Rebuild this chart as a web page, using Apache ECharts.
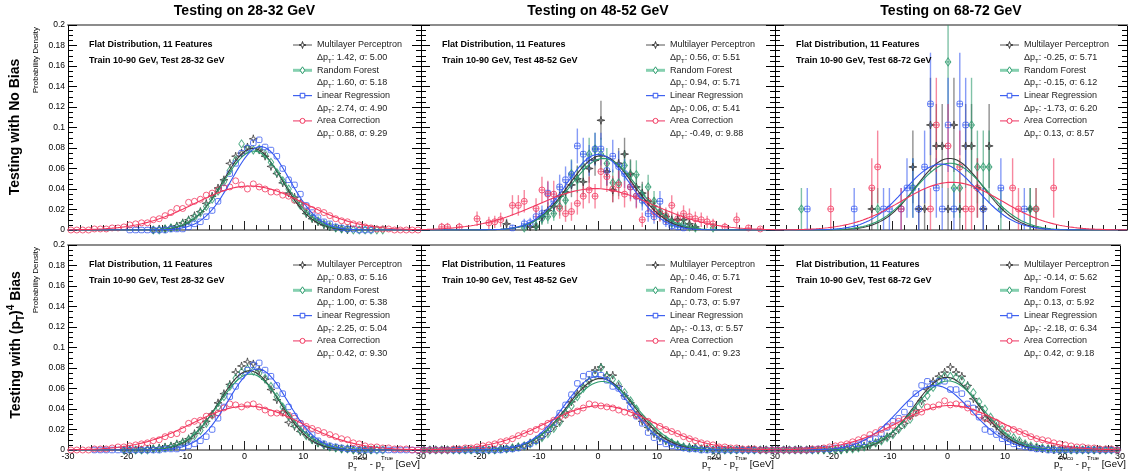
<!DOCTYPE html>
<html>
<head>
<meta charset="utf-8">
<script src="https://cdn.jsdelivr.net/npm/echarts@6/dist/echarts.min.js"></script>
<style>
html, body { margin: 0; padding: 0; background: #fff; }
#main { width: 1128px; height: 472px; }
</style>
</head>
<body>
<div id="main"></div>
<script>
const _ = null;

// bin centres of the 1 GeV histograms, p_T^Reco - p_T^True
const binCenters = [
    -29.5, -28.5, -27.5, -26.5, -25.5, -24.5, -23.5, -22.5, -21.5, -20.5,
    -19.5, -18.5, -17.5, -16.5, -15.5, -14.5, -13.5, -12.5, -11.5, -10.5,
    -9.5, -8.5, -7.5, -6.5, -5.5, -4.5, -3.5, -2.5, -1.5, -0.5,
    0.5, 1.5, 2.5, 3.5, 4.5, 5.5, 6.5, 7.5, 8.5, 9.5,
    10.5, 11.5, 12.5, 13.5, 14.5, 15.5, 16.5, 17.5, 18.5, 19.5,
    20.5, 21.5, 22.5, 23.5, 24.5, 25.5, 26.5, 27.5, 28.5, 29.5
];
const yUnit = 0.001; // all bin contents below are in units of 1e-3

const methodNames = ['Multilayer Perceptron', 'Random Forest', 'Linear Regression', 'Area Correction'];
const colTitles = ['Testing on 28-32 GeV', 'Testing on 48-52 GeV', 'Testing on 68-72 GeV'];
const testRanges = ['28-32', '48-52', '68-72'];

// ---- no bias, 28-32 GeV
const mlpTL = [
    _,_,_,_,_,_,_,_,_,_,
    _,_,_,_,0,1,1,2,4,7,
    10,14,18,26,33,41,49,65,72,75,
    81,89,78,72,62,55,46,36,32,26,
    16,11,8,5,3,2,1,0,_,_,
    _,_,_,_,_,_,_,_,_,_];
const rfTL = [
    _,_,_,_,_,_,_,_,_,_,
    _,_,_,_,0,0,1,2,3,6,
    9,12,17,23,30,38,47,58,68,84,
    79,78,79,74,66,56,48,40,30,24,
    17,12,9,6,4,2,1,1,0,0,
    0,0,0,0,_,_,_,_,_,_];
const lrTL = [
    _,_,_,_,_,_,_,_,_,_,
    0,0,0,0,0,0,0,1,1,1,
    3,6,8,13,19,28,41,55,65,75,
    80,85,88,81,78,72,60,49,44,35,
    24,17,12,8,6,3,2,1,1,0,
    0,0,_,_,_,_,_,_,_,_];
const acTL = [
    0,0,0,0,1,1,1,2,2,3,
    5,6,7,7,10,11,14,17,21,21,
    27,28,30,34,36,39,41,42,48,44,
    40,45,42,40,37,37,34,33,29,26,
    23,20,19,17,14,11,9,8,6,5,
    3,2,1,1,1,0,0,0,0,0];
const fitMeanTL = [1.42, 1.60, 2.74, 0.88];
const fitSigmaTL = [5.00, 5.18, 4.90, 9.29];

// ---- no bias, 48-52 GeV (with errors)
const mlpTM = [
    _,_,_,_,_,_,_,_,_,_,
    _,_,_,_,6,_,_,_,3,3,
    13,19,23,33,37,44,50,47,60,68,
    107,57,39,65,74,55,42,36,28,23,
    16,13,10,10,10,6,3,_,_,_,
    _,_,_,_,_,_,_,_,_,_];
const mlpTMerr = [
    _,_,_,_,_,_,_,_,_,_,
    _,_,_,_,5,_,_,_,3,3,
    7,8,9,11,11,12,13,13,14,15,
    19,14,12,15,16,14,12,11,10,9,
    7,7,6,6,6,5,3,_,_,_,
    _,_,_,_,_,_,_,_,_,_];
const rfTM = [
    _,_,_,_,_,_,_,_,_,_,
    _,_,_,_,_,_,_,2,_,4,
    11,13,16,23,29,55,49,62,74,79,
    74,65,46,46,63,54,54,34,42,28,
    18,13,7,6,6,3,2,_,_,2,
    _,_,_,_,_,_,_,_,_,_];
const rfTMerr = [
    _,_,_,_,_,_,_,_,_,_,
    _,_,_,_,_,_,_,3,_,4,
    6,7,7,9,10,14,13,15,16,16,
    16,15,13,13,15,14,14,11,12,10,
    8,7,5,5,5,3,3,_,_,3,
    _,_,_,_,_,_,_,_,_,_];
const lrTM = [
    _,_,_,_,_,_,_,_,_,_,
    _,_,_,_,_,2,_,6,7,13,
    16,36,28,42,49,54,82,74,68,79,
    79,58,72,62,55,42,33,29,16,13,
    28,8,4,3,2,_,_,_,_,_,
    _,_,_,_,_,_,_,_,_,_];
const lrTMerr = [
    _,_,_,_,_,_,_,_,_,_,
    _,_,_,_,_,3,_,5,5,7,
    8,11,10,12,13,14,17,16,15,16,
    16,14,16,15,14,12,11,10,8,7,
    10,5,4,3,3,_,_,_,_,_,
    _,_,_,_,_,_,_,_,_,_];
const acTM = [
    _,_,_,3,3,_,3,_,_,11,
    _,7,8,10,_,24,24,28,_,21,
    39,35,35,21,16,18,26,33,39,33,
    57,52,40,44,35,42,33,10,28,18,
    16,14,24,11,16,13,11,10,8,6,
    _,3,_,10,_,2,_,1,_,_];
const acTMerr = [
    _,_,_,4,4,_,4,_,_,7,
    _,6,6,7,_,10,10,11,_,10,
    13,13,13,10,8,9,11,12,13,12,
    16,15,13,14,13,14,12,7,11,9,
    8,8,10,7,8,8,7,7,6,5,
    _,4,_,7,_,3,_,2,_,_];
const fitMeanTM = [0.56, 0.94, 0.06, -0.49];
const fitSigmaTM = [5.51, 5.71, 5.41, 9.88];

// ---- no bias, 68-72 GeV (few entries, with errors)
const mlpTR = [
    _,_,_,_,_,_,_,_,_,_,
    _,_,_,_,_,_,20.5,_,_,_,
    _,_,_,61.5,20.5,20.5,102.5,82,82,20.5,
    102.5,20.5,82,82,41,20.5,82,_,_,_,
    _,_,_,20.5,_,_,_,_,_,_,
    _,_,_,_,_,_,_,_,_,_];
const mlpTRerr = [
    _,_,_,_,_,_,_,_,_,_,
    _,_,_,_,_,_,20.5,_,_,_,
    _,_,_,35.5,20.5,20.5,46,41,41,20.5,
    46,20.5,41,41,29,20.5,41,_,_,_,
    _,_,_,20.5,_,_,_,_,_,_,
    _,_,_,_,_,_,_,_,_,_];
const rfTR = [
    _,_,_,_,20.5,_,_,_,_,_,
    _,_,_,_,_,_,_,20.5,_,_,
    _,_,_,41,_,_,_,_,_,164,
    41,41,_,102.5,61.5,61.5,61.5,_,20.5,_,
    _,_,_,20.5,20.5,_,_,_,_,_,
    _,_,_,_,_,_,_,_,_,_];
const rfTRerr = [
    _,_,_,_,20.5,_,_,_,_,_,
    _,_,_,_,_,_,_,20.5,_,_,
    _,_,_,29,_,_,_,_,_,58,
    29,29,_,46,35.5,35.5,35.5,_,20.5,_,
    _,_,_,20.5,20.5,_,_,_,_,_,
    _,_,_,_,_,_,_,_,_,_];
const lrTR = [
    _,_,_,_,_,20.5,_,_,_,_,
    _,_,_,20.5,_,_,_,_,20.5,20.5,
    _,20.5,41,41,20.5,61.5,123,41,20.5,102.5,
    20.5,123,102.5,_,_,20.5,_,_,41,_,
    _,_,20.5,_,_,_,_,_,_,_,
    _,_,_,_,_,_,_,_,_,_];
const lrTRerr = [
    _,_,_,_,_,20.5,_,_,_,_,
    _,_,_,20.5,_,_,_,_,20.5,20.5,
    _,20.5,29,29,20.5,35.5,50,29,20.5,46,
    20.5,50,46,_,_,20.5,_,_,29,_,
    _,_,20.5,_,_,_,_,_,_,_,
    _,_,_,_,_,_,_,_,_,_];
const acTR = [
    _,_,_,_,_,_,_,_,_,20.5,
    _,_,_,_,_,_,41,61.5,_,_,
    _,20.5,_,_,_,_,20.5,102.5,_,82,
    _,61.5,20.5,20.5,41,_,_,_,_,_,
    41,20.5,_,_,20.5,_,_,41,_,_,
    _,_,_,_,_,_,_,_,_,_];
const acTRerr = [
    _,_,_,_,_,_,_,_,_,20.5,
    _,_,_,_,_,_,29,35.5,_,_,
    _,20.5,_,_,_,_,20.5,46,_,41,
    _,35.5,20.5,20.5,29,_,_,_,_,_,
    29,20.5,_,_,20.5,_,_,29,_,_,
    _,_,_,_,_,_,_,_,_,_];
const fitMeanTR = [-0.25, -0.15, -1.73, 0.13];
const fitSigmaTR = [5.71, 6.12, 6.20, 8.57];

// ---- (pT)^4 bias, 28-32 GeV
const mlpBL = [
    _,_,_,_,_,_,_,_,_,0,
    0,0,0,1,1,2,3,4,6,8,
    11,16,22,28,35,46,55,64,76,82,
    86,84,78,69,59,49,37,27,23,18,
    15,10,7,5,3,2,1,1,0,0,
    0,0,_,_,_,_,_,_,_,_];
const rfBL = [
    _,_,_,_,_,_,_,_,_,0,
    0,0,0,0,1,1,2,3,5,7,
    10,14,19,26,34,42,52,62,70,76,
    79,77,75,70,62,52,42,33,25,19,
    14,10,7,5,3,2,1,1,0,0,
    0,0,0,0,_,_,_,_,_,_];
const lrBL = [
    _,_,_,_,0,0,0,0,0,0,
    0,0,0,0,0,0,1,1,1,2,
    4,6,9,13,20,31,42,52,62,72,
    78,83,85,78,72,63,55,42,33,26,
    20,15,9,6,4,3,2,1,1,0,
    0,0,0,0,0,0,0,0,0,0];
const acBL = [
    0,0,0,0,1,1,1,2,3,3,
    4,5,6,7,9,10,13,15,16,20,
    26,28,29,33,34,36,41,45,44,42,
    44,45,42,39,36,36,36,34,31,26,
    23,21,19,17,15,13,11,10,7,6,
    4,3,3,2,2,1,1,1,0,0];
const fitMeanBL = [0.83, 1.00, 2.25, 0.42];
const fitSigmaBL = [5.16, 5.38, 5.04, 9.30];

// ---- (pT)^4 bias, 48-52 GeV
const mlpBM = [
    0,0,0,0,0,0,0,0,0,0,
    0,0,0,1,1,2,3,4,7,10,
    13,18,23,28,37,47,55,62,68,78,
    81,73,73,62,53,46,34,28,22,16,
    12,9,7,5,3,3,2,1,1,0,
    0,0,0,0,0,0,0,0,0,0];
const rfBM = [
    0,0,0,0,0,0,0,0,0,0,
    0,0,0,1,1,2,3,4,6,9,
    12,16,21,27,35,43,52,60,67,74,
    80,72,69,64,56,48,40,31,24,18,
    13,10,7,5,3,2,2,1,1,0,
    0,0,0,0,0,0,0,0,0,0];
const lrBM = [
    0,0,0,0,0,0,0,0,0,0,
    0,0,0,0,1,1,2,4,6,9,
    14,20,27,36,44,54,65,72,74,74,
    73,68,62,60,52,42,33,26,17,12,
    8,6,4,3,2,1,1,0,0,0,
    0,0,0,0,0,0,0,0,0,0];
const acBM = [
    0,0,0,0,0,1,1,2,2,3,
    4,5,6,8,9,11,14,16,18,20,
    23,26,29,32,34,36,38,41,45,44,
    43,42,41,39,37,36,34,31,28,24,
    23,20,18,16,13,11,9,7,6,5,
    3,3,2,2,1,1,1,0,0,0];
const fitMeanBM = [0.46, 0.73, -0.13, 0.41];
const fitSigmaBM = [5.71, 5.97, 5.57, 9.23];

// ---- (pT)^4 bias, 68-72 GeV
const mlpBR = [
    0,0,0,0,0,0,0,0,0,0,
    0,0,1,2,3,4,5,7,10,13,
    16,21,26,33,39,48,59,67,72,76,
    81,76,72,63,50,42,31,28,23,16,
    12,9,7,5,3,2,1,1,0,0,
    0,0,0,0,0,0,0,0,0,0];
const rfBR = [
    0,0,0,0,0,0,0,0,0,0,
    0,0,1,1,2,3,5,7,9,12,
    15,20,25,30,37,45,53,61,68,72,
    72,71,68,62,56,47,40,32,26,20,
    16,12,9,6,4,3,2,1,1,0,
    0,0,0,0,0,0,0,0,0,0];
const lrBR = [
    0,0,0,0,0,0,0,1,1,1,
    2,2,3,4,6,8,11,11,16,22,
    28,31,37,45,55,63,67,64,67,67,
    59,59,55,45,41,32,20,18,15,11,
    8,6,4,3,2,1,1,0,0,0,
    0,0,0,0,0,0,0,0,0,0];
const acBR = [
    0,0,0,0,0,0,1,1,2,3,
    4,5,6,8,10,12,15,17,20,23,
    24,28,30,33,36,37,42,42,44,48,
    44,45,44,41,37,34,31,29,27,23,
    21,20,18,16,13,11,10,9,7,6,
    5,4,3,3,2,2,1,1,1,0];
const fitMeanBR = [-0.14, 0.13, -2.18, 0.42];
const fitSigmaBR = [5.62, 5.92, 6.34, 9.18];

const panels = [
    { row: 0, col: 0, values: [mlpTL, rfTL, lrTL, acTL], errors: null, mean: fitMeanTL, sigma: fitSigmaTL },
    { row: 0, col: 1, values: [mlpTM, rfTM, lrTM, acTM], errors: [mlpTMerr, rfTMerr, lrTMerr, acTMerr], mean: fitMeanTM, sigma: fitSigmaTM },
    { row: 0, col: 2, values: [mlpTR, rfTR, lrTR, acTR], errors: [mlpTRerr, rfTRerr, lrTRerr, acTRerr], mean: fitMeanTR, sigma: fitSigmaTR },
    { row: 1, col: 0, values: [mlpBL, rfBL, lrBL, acBL], errors: null, mean: fitMeanBL, sigma: fitSigmaBL },
    { row: 1, col: 1, values: [mlpBM, rfBM, lrBM, acBM], errors: null, mean: fitMeanBM, sigma: fitSigmaBM },
    { row: 1, col: 2, values: [mlpBR, rfBR, lrBR, acBR], errors: null, mean: fitMeanBR, sigma: fitSigmaBR }
];

// layout + styles
const FONT = '"Liberation Sans", Arial, Helvetica, sans-serif';
const colLeft = [68, 421, 775];
const colWidth = [353, 354, 352];
const rowTop = [25, 245];
const rowHeight = 205;

const seriesColor = ['#3a3a3a', '#2b9a6c', '#3558f0', '#f2385f'];
const barColor = ['rgba(70,70,70,0.6)', 'rgba(43,154,108,0.6)', 'rgba(53,88,240,0.6)', 'rgba(242,56,95,0.6)'];
const legendLineColor = ['#555555', '#86d0b0', '#3f62f0', '#f0527a'];
const legendLineWidth = [1, 3, 1.2, 1.2];
const starPath = 'path://M0,-6L1.2,-1.2L6,0L1.2,1.2L0,6L-1.2,1.2L-6,0L-1.2,-1.2Z';
const markerSymbol = [starPath, 'diamond', 'roundRect', 'circle'];
const markerSize = [8, [5.5, 8], 5.5, 6];

function errorBarItem(color) {
    return function (params, api) {
        const x = api.value(0), y = api.value(1), e = api.value(2);
        const cs = params.coordSys;
        const lo = api.coord([x, y - e]);
        const hi = api.coord([x, y + e]);
        const l = api.coord([x - 0.5, y]);
        const r = api.coord([x + 0.5, y]);
        const clampY = v => Math.max(cs.y, Math.min(cs.y + cs.height, v));
        return {
            type: 'group',
            children: [
                { type: 'line', shape: { x1: lo[0], y1: clampY(lo[1]), x2: hi[0], y2: clampY(hi[1]) }, style: { stroke: color, lineWidth: 1.4 } },
                { type: 'line', shape: { x1: l[0], y1: l[1], x2: r[0], y2: r[1] }, style: { stroke: color, lineWidth: 1.4 } }
            ]
        };
    };
}

function legendMarker(k, cx, cy) {
    const st = { fill: '#fff', stroke: seriesColor[k], lineWidth: 1 };
    if (k === 0) {
        return { type: 'polygon', shape: { points: [[cx, cy - 3.5], [cx + 0.8, cy - 0.8], [cx + 3.5, cy], [cx + 0.8, cy + 0.8], [cx, cy + 3.5], [cx - 0.8, cy + 0.8], [cx - 3.5, cy], [cx - 0.8, cy - 0.8]] }, style: st, z: 20 };
    } else if (k === 1) {
        return { type: 'polygon', shape: { points: [[cx, cy - 3.5], [cx + 2.3, cy], [cx, cy + 3.5], [cx - 2.3, cy]] }, style: st, z: 20 };
    } else if (k === 2) {
        return { type: 'rect', shape: { x: cx - 2.3, y: cy - 2.3, width: 4.6, height: 4.6 }, style: st, z: 20 };
    }
    return { type: 'circle', shape: { cx: cx, cy: cy, r: 2.5 }, style: st, z: 20 };
}

// x axis title with stacked super/subscripts, right aligned
function axisTitle(right, cy) {
    const ctx = document.createElement('canvas').getContext('2d');
    const fMain = '9.5px ' + FONT, fSmall = '6px ' + FONT;
    const w = (t, f) => { ctx.font = f; return ctx.measureText(t).width; };
    const pieces = [
        { main: 'p' }, { sup: 'Reco', sub: 'T' }, { main: ' - p' }, { sup: 'True', sub: 'T' }, { main: ' [GeV]' }
    ];
    let total = 0;
    pieces.forEach(pc => {
        pc.w = pc.main ? w(pc.main, fMain) : Math.max(w(pc.sup, fSmall), w(pc.sub, fSmall));
        total += pc.w;
    });
    let x = right - total;
    const out = [];
    pieces.forEach(pc => {
        if (pc.main) {
            out.push({ type: 'text', x: x, y: cy, style: { text: pc.main, font: fMain, fill: '#000', verticalAlign: 'middle' } });
        } else {
            out.push({ type: 'text', x: x, y: cy - 5.5, style: { text: pc.sup, font: fSmall, fill: '#000', verticalAlign: 'middle' } });
            out.push({ type: 'text', x: x, y: cy + 5, style: { text: pc.sub, font: fSmall, fill: '#000', verticalAlign: 'middle' } });
        }
        x += pc.w;
    });
    return out;
}

const grids = [], xAxes = [], yAxes = [], series = [], graphics = [];

panels.forEach((p, i) => {
    const left = colLeft[p.col], top = rowTop[p.row], width = colWidth[p.col];
    grids.push({ left: left, top: top, width: width, height: rowHeight });

    xAxes.push({
        gridIndex: i, type: 'value', min: -30, max: 30, interval: 10, position: 'bottom',
        axisLine: { show: true, onZero: false, lineStyle: { color: '#8c8c8c', width: 2 } },
        axisTick: { inside: true, length: 9, lineStyle: { color: '#222' } },
        minorTick: { show: true, splitNumber: 5, length: 5, lineStyle: { color: '#222' } },
        splitLine: { show: false },
        axisLabel: { show: p.row === 1, showMinLabel: p.col === 0, fontSize: 9, fontFamily: FONT, color: '#000', margin: 2 }
    });
    xAxes.push({
        gridIndex: i, type: 'value', min: -30, max: 30, position: 'top',
        axisLine: { show: true, onZero: false, lineStyle: { color: '#8c8c8c', width: 2 } },
        axisTick: { show: false }, axisLabel: { show: false }, splitLine: { show: false }
    });
    const yBase = {
        gridIndex: i, type: 'value', min: 0, max: 0.2, interval: 0.02,
        axisLine: { show: true, onZero: false, lineStyle: { color: '#000', width: 1 } },
        axisTick: { inside: true, length: 9, lineStyle: { color: '#000' } },
        minorTick: { show: true, splitNumber: 4, length: 5, lineStyle: { color: '#000' } },
        splitLine: { show: false }
    };
    yAxes.push(Object.assign({}, yBase, {
        position: 'left',
        axisLabel: {
            show: p.col === 0, fontSize: 8.5, fontFamily: FONT, color: '#000', margin: 3,
            formatter: v => v === 0 ? '0' : String(parseFloat(v.toFixed(2)))
        }
    }));
    yAxes.push(Object.assign({}, yBase, { position: 'right', axisLabel: { show: false } }));

    // markers (and error bars where the statistics are poor)
    p.values.forEach((vals, k) => {
        const pts = [];
        vals.forEach((v, j) => {
            if (v !== null) pts.push([binCenters[j], v * yUnit, p.errors ? p.errors[k][j] * yUnit : 0]);
        });
        if (p.errors) {
            series.push({
                type: 'custom', xAxisIndex: 2 * i, yAxisIndex: 2 * i, data: pts,
                renderItem: errorBarItem(barColor[k]), silent: true, z: 2
            });
        }
        series.push({
            type: 'scatter', xAxisIndex: 2 * i, yAxisIndex: 2 * i,
            data: pts.map(d => [d[0], d[1]]),
            symbol: markerSymbol[k], symbolSize: markerSize[k],
            itemStyle: { color: 'rgba(255,255,255,0)', borderColor: seriesColor[k], borderWidth: 1 },
            silent: true, z: 3
        });
    });

    // gaussian fits, drawn from the fitted mean and width printed in the legend
    p.mean.forEach((mu, k) => {
        const s = p.sigma[k];
        const curve = [];
        for (let x = -30; x <= 30.001; x += 0.25) {
            curve.push([x, Math.exp(-0.5 * Math.pow((x - mu) / s, 2)) / (s * Math.sqrt(2 * Math.PI))]);
        }
        series.push({
            type: 'line', xAxisIndex: 2 * i, yAxisIndex: 2 * i, data: curve,
            showSymbol: false, smooth: false, silent: true,
            lineStyle: { color: seriesColor[k], width: 1.1 }, z: 4
        });
    });

    // text boxes
    graphics.push({ type: 'text', x: left + 21, y: top + 20, style: { text: 'Flat Distribution, 11 Features', font: 'bold 9px ' + FONT, fill: '#000', verticalAlign: 'middle' }, z: 20 });
    graphics.push({ type: 'text', x: left + 21, y: top + 36, style: { text: 'Train 10-90 GeV, Test ' + testRanges[p.col] + ' GeV', font: 'bold 9px ' + FONT, fill: '#000', verticalAlign: 'middle' }, z: 20 });

    // legend
    const lx = left + 225, tx = left + 249;
    methodNames.forEach((name, k) => {
        const y1 = top + 20 + k * 25.3;
        const y2 = y1 + 12.67;
        graphics.push({ type: 'line', shape: { x1: lx, y1: y1, x2: lx + 19, y2: y1 }, style: { stroke: legendLineColor[k], lineWidth: legendLineWidth[k] }, z: 19 });
        graphics.push(legendMarker(k, lx + 9.5, y1));
        graphics.push({ type: 'text', x: tx, y: y1, style: { text: name, font: '9px ' + FONT, fill: '#222', verticalAlign: 'middle' }, z: 20 });
        graphics.push({
            type: 'text', x: tx, y: y2, z: 20,
            style: {
                text: '{n|\u0394p}{s|T}{n|: ' + p.mean[k].toFixed(2) + ', \u03c3: ' + p.sigma[k].toFixed(2) + '}',
                verticalAlign: 'middle',
                rich: {
                    n: { fontSize: 9, fontFamily: FONT, fill: '#222', lineHeight: 13, verticalAlign: 'middle' },
                    s: { fontSize: 6, fontFamily: FONT, fill: '#222', lineHeight: 6, verticalAlign: 'bottom' }
                }
            }
        });
    });

    if (p.row === 1) {
        axisTitle(left + width - 1, 464).forEach(g => graphics.push(g));
    }
});

// column titles
colTitles.forEach((t, c) => {
    graphics.push({ type: 'text', x: colLeft[c] + colWidth[c] / 2, y: 11, style: { text: t, font: 'bold 14px ' + FONT, fill: '#000', align: 'center', verticalAlign: 'middle' } });
});

// row titles
graphics.push({ type: 'text', x: 15, y: 127, rotation: Math.PI / 2, style: { text: 'Testing with No Bias', font: 'bold 14px ' + FONT, fill: '#000', align: 'center', verticalAlign: 'middle' } });
graphics.push({
    type: 'text', x: 16, y: 345, rotation: Math.PI / 2,
    style: {
        text: '{b|Testing with (p}{s|T}{b|)}{u|4}{b| Bias}',
        align: 'center', verticalAlign: 'middle',
        rich: {
            b: { fontSize: 14, fontWeight: 'bold', fontFamily: FONT, fill: '#000', lineHeight: 20, verticalAlign: 'middle' },
            s: { fontSize: 10, fontWeight: 'bold', fontFamily: FONT, fill: '#000', lineHeight: 10, verticalAlign: 'bottom' },
            u: { fontSize: 10, fontWeight: 'bold', fontFamily: FONT, fill: '#000', lineHeight: 10, verticalAlign: 'top' }
        }
    }
});

// y axis titles
rowTop.forEach(t => {
    graphics.push({ type: 'text', x: 36, y: t + 2, rotation: Math.PI / 2, style: { text: 'Probability Density', font: '8px ' + FONT, fill: '#000', align: 'right', verticalAlign: 'middle' } });
});

const chart = echarts.init(document.getElementById('main'), null, { renderer: 'canvas' });
chart.setOption({
    animation: false,
    backgroundColor: '#fff',
    grid: grids,
    xAxis: xAxes,
    yAxis: yAxes,
    series: series,
    graphic: graphics
});
</script>
</body>
</html>
